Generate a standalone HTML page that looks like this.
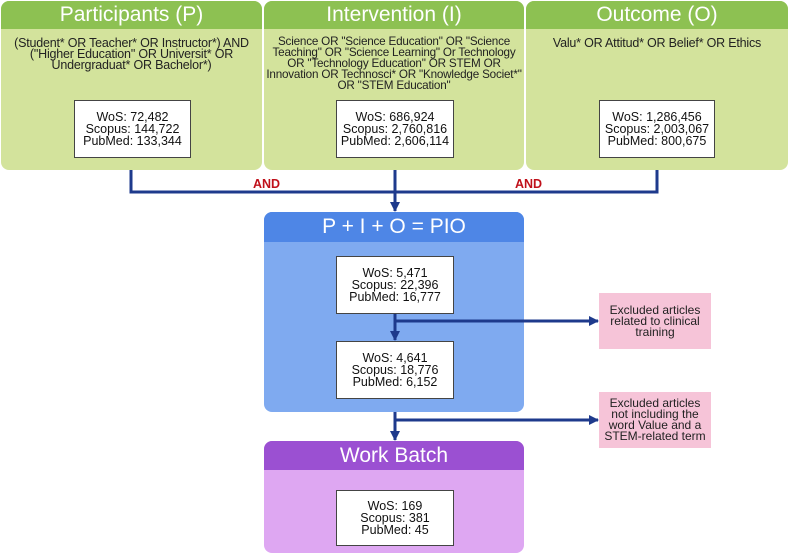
<!DOCTYPE html>
<html><head><meta charset="utf-8"><style>
body{margin:0;width:789px;height:556px;background:#fff;position:relative;font-family:"Liberation Sans",Arial,sans-serif;overflow:hidden}
.p{position:absolute;border-radius:8px;overflow:hidden}
.h{color:#fff;text-align:center;font-size:21px;line-height:28px}
.t{position:absolute;text-align:center;font-size:12.5px;line-height:11px;color:#222;letter-spacing:-0.2px}
.b{position:absolute;background:#fff;border:1px solid #444;text-align:center;font-size:12.5px;line-height:12px;color:#111;box-sizing:border-box;display:flex;flex-direction:column;justify-content:center}
.k{position:absolute;background:#f6c4d8;text-align:center;font-size:12px;line-height:11px;color:#222;display:flex;flex-direction:column;justify-content:center}
.and{position:absolute;color:#c0101a;font-weight:bold;font-size:12.5px}
</style></head><body>
<div class="p" style="left:1px;top:1px;width:261px;height:169px;background:#d3e39c"><div class="h" style="background:#8dc152">Participants (P)</div></div>
<div class="p" style="left:264px;top:1px;width:260px;height:169px;background:#d3e39c"><div class="h" style="background:#8dc152">Intervention (I)</div></div>
<div class="p" style="left:526px;top:1px;width:262px;height:169px;background:#d3e39c"><div class="h" style="background:#8dc152">Outcome (O)</div></div>
<div class="t" style="left:1px;top:38px;width:261px">(Student* OR Teacher* OR Instructor*) AND<br>("Higher Education" OR Universit* OR<br>Undergraduat* OR Bachelor*)</div>
<div class="t" style="left:264px;top:36px;width:260px;font-size:11.7px">Science OR "Science Education" OR "Science<br>Teaching" OR "Science Learning" Or Technology<br>OR "Technology Education" OR STEM OR<br>Innovation OR Technosci* OR "Knowledge Societ*"<br>OR "STEM Education"</div>
<div class="t" style="left:526px;top:38px;width:262px">Valu* OR Attitud* OR Belief* OR Ethics</div>
<div class="b" style="left:74px;top:100px;width:117px;height:58px">WoS: 72,482<br>Scopus: 144,722<br>PubMed: 133,344</div>
<div class="b" style="left:336px;top:100px;width:118px;height:58px">WoS: 686,924<br>Scopus: 2,760,816<br>PubMed: 2,606,114</div>
<div class="b" style="left:599px;top:100px;width:116px;height:58px">WoS: 1,286,456<br>Scopus: 2,003,067<br>PubMed: 800,675</div>
<div class="p" style="left:264px;top:212px;width:260px;height:200px;background:#7faaf0"><div class="h" style="background:#4e86e6;height:30px;line-height:30px">P + I + O = PIO</div></div>
<div class="b" style="left:336px;top:256px;width:118px;height:58px">WoS: 5,471<br>Scopus: 22,396<br>PubMed: 16,777</div>
<div class="b" style="left:336px;top:341px;width:118px;height:58px">WoS: 4,641<br>Scopus: 18,776<br>PubMed: 6,152</div>
<div class="p" style="left:264px;top:441px;width:260px;height:112px;background:#dea7f2"><div class="h" style="background:#9b50d2;height:29px;line-height:29px">Work Batch</div></div>
<div class="b" style="left:336px;top:490px;width:118px;height:56px">WoS: 169<br>Scopus: 381<br>PubMed: 45</div>
<div class="k" style="left:599px;top:293px;width:112px;height:56px">Excluded articles<br>related to clinical<br>training</div>
<div class="k" style="left:599px;top:392px;width:112px;height:56px">Excluded articles<br>not including the<br>word Value and a<br>STEM-related term</div>
<div class="and" style="left:253px;top:177px">AND</div>
<div class="and" style="left:515px;top:177px">AND</div>
<svg width="789" height="556" style="position:absolute;left:0;top:0">
<defs><marker id="a" markerWidth="10" markerHeight="10" refX="9" refY="5" orient="auto" markerUnits="userSpaceOnUse"><path d="M0,0L10,5L0,10z" fill="#1e3a8c"/></marker></defs>
<g stroke="#1e3a8c" stroke-width="3" fill="none">
<path d="M131,170V192H657V170"/>
<path d="M395,170V211" marker-end="url(#a)"/>
<path d="M395,314V340" marker-end="url(#a)"/>
<path d="M395,321H598" marker-end="url(#a)"/>
<path d="M395,412V440" marker-end="url(#a)"/>
<path d="M395,420H598" marker-end="url(#a)"/>
</g></svg>
</body></html>
